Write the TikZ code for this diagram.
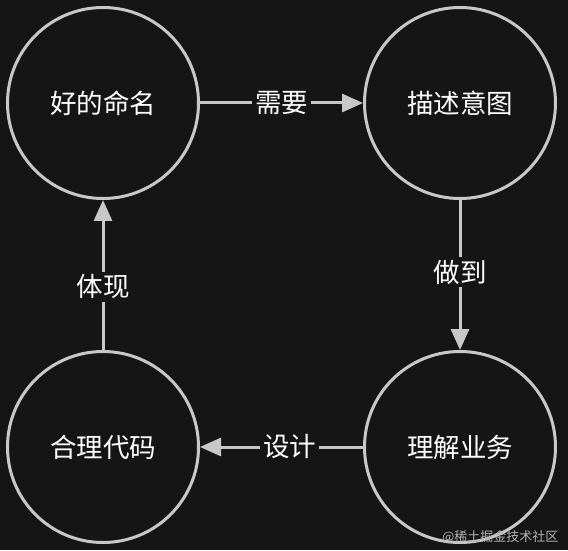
\documentclass[tikz,border=0pt]{standalone}
\usepackage{fontspec}
\newfontfamily\cjk{Noto Sans CJK SC}[BoldFont={Noto Sans CJK SC Medium}]
\usetikzlibrary{arrows.meta}
\definecolor{bg}{HTML}{151515}
\definecolor{stroke}{HTML}{C8C8C8}
\begin{document}
\begin{tikzpicture}[x=1pt,y=1pt,
  circ/.style={circle,draw=stroke,line width=3pt,fill=bg,minimum size=191pt,inner sep=0pt,text=white,font=\cjk\fontsize{26.5}{26.5}\selectfont},
  conn/.style={draw=stroke,line width=3pt,-{Triangle[length=21pt,width=18pt]}},
  lab/.style={fill=bg,text=white,font=\cjk\fontsize{26.5}{26.5}\selectfont,inner sep=3pt}]
\fill[bg] (0,0) rectangle (568,550);
\useasboundingbox (0,0) rectangle (568,550);
\node[circ] (a) at (103,447) {好的命名};
\node[circ] (b) at (460,447) {描述意图};
\node[circ] (c) at (460,103) {理解业务};
\node[circ] (d) at (103,103) {合理代码};
\draw[conn] (a) -- node[lab,pos=0.5] {需要} (b);
\draw[conn] (b) -- node[lab,pos=0.48] {做到} (c);
\draw[conn] (c) -- node[lab,pos=0.45] {设计} (d);
\draw[conn] (d) -- node[lab,pos=0.42] {体现} (a);
\node[text=gray!60,font=\cjk\fontsize{13}{13}\selectfont,anchor=east] (w) at (562,13) {@稀土掘金技术社区};
\end{tikzpicture}
\end{document}
